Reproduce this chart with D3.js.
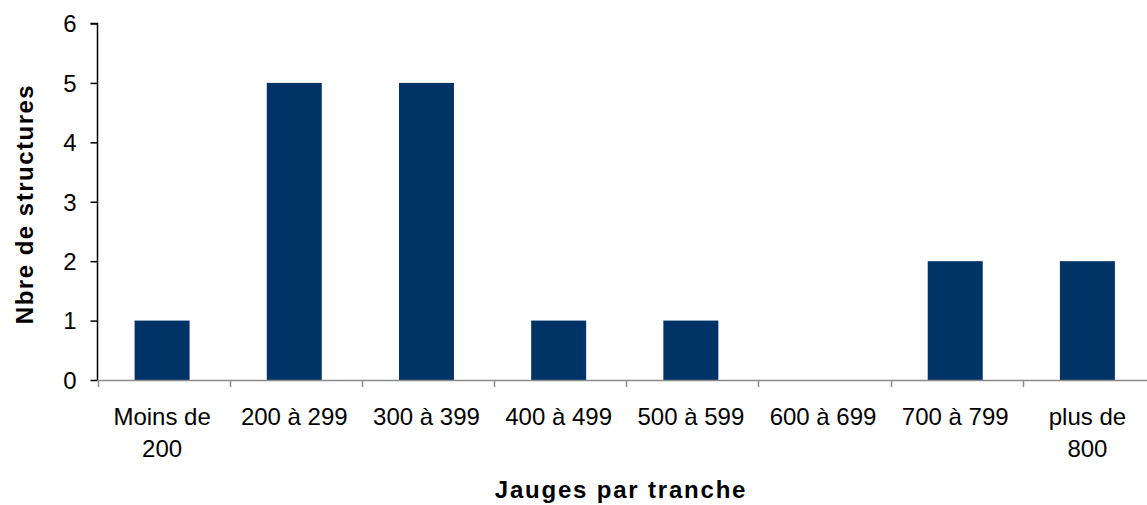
<!DOCTYPE html>
<html><head><meta charset="utf-8">
<script src="https://cdn.jsdelivr.net/npm/d3@7"></script>
<style>
html,body{margin:0;padding:0;background:#fff;}
svg{display:block;font-family:"Liberation Sans",Arial,sans-serif;}
</style></head>
<body>
<svg id="c" width="1147" height="505"></svg>
<script>
const categories = [["Moins de","200"],["200 à 299"],["300 à 399"],["400 à 499"],["500 à 599"],["600 à 699"],["700 à 799"],["plus de","800"]];
const values = [1,5,5,1,1,0,2,2];
const yTicks = [0,1,2,3,4,5,6];
const xTitle = "Jauges par tranche";
const yTitle = "Nbre de structures";

const svg = d3.select("#c");
const keys = categories.map(c => c.join(" "));
const x = d3.scaleBand().domain(keys).range([97.5, 1155]).padding(0);
const y = d3.scaleLinear().domain([0,6]).range([380, 23.5]);
const barColor = "#003366";

// bars
const bw = x.bandwidth()*0.416;
svg.append("g").selectAll("rect").data(values).join("rect")
  .attr("x",(d,i)=>x(keys[i])+x.bandwidth()/2-bw/2-1.5)
  .attr("y",d=>y(d))
  .attr("width",bw)
  .attr("height",d=>y(0)-y(d))
  .attr("fill",barColor);

// x axis line
svg.append("line").attr("x1",97.5).attr("x2",1147).attr("y1",y(0)+0.5).attr("y2",y(0)+0.5)
  .attr("stroke","#8c8c8c").attr("stroke-width",1.5);
// x ticks at band boundaries
const bounds = keys.map(k=>x(k)).concat([x.range()[1]]);
svg.append("g").selectAll("line").data(bounds.filter(b=>b<1147)).join("line")
  .attr("x1",d=>Math.round(d)+0.5).attr("x2",d=>Math.round(d)+0.5)
  .attr("y1",y(0)).attr("y2",y(0)+7)
  .attr("stroke","#8c8c8c").attr("stroke-width",1.5);
// x labels
const xl = svg.append("g").selectAll("text").data(categories).join("text")
  .attr("x",(d,i)=>x(keys[i])+x.bandwidth()/2-1.5)
  .attr("y",425)
  .attr("text-anchor","middle")
  .attr("font-size",24)
  .attr("fill","#000");
xl.each(function(d){
  const t=d3.select(this);
  d.forEach((line,j)=>t.append("tspan").attr("x",t.attr("x")).attr("dy",j===0?0:32).text(line));
});

// y axis
const yAxis = d3.axisLeft(y).tickValues(yTicks).tickSize(7).tickPadding(14).tickFormat(d3.format("d"));
const gy = svg.append("g").attr("transform","translate(97.5,0)").call(yAxis);
gy.select(".domain").attr("stroke","#000").attr("stroke-width",1.5).attr("d",`M-7,${y(6)}H0V${y(0)}`);
gy.selectAll(".tick line").attr("stroke","#000").attr("stroke-width",1.5);
gy.selectAll(".tick text").attr("font-size",24).attr("font-family","Liberation Sans, Arial, sans-serif").attr("fill","#000").attr("dy","0.35em");

// titles
svg.append("text").attr("x",621).attr("y",498).attr("text-anchor","middle")
  .attr("font-size",24).attr("font-weight","bold").attr("letter-spacing","1.8px").text(xTitle);
svg.append("text").attr("transform","translate(33,204) rotate(-90)").attr("text-anchor","middle")
  .attr("font-size",24).attr("font-weight","bold").attr("letter-spacing","1.5px").text(yTitle);
</script>
</body></html>
